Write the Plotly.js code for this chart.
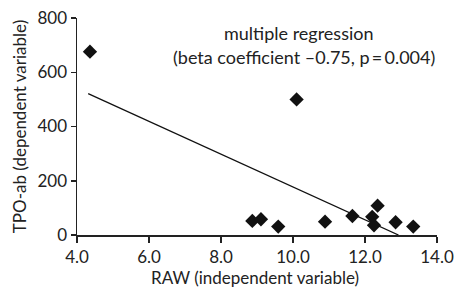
<!DOCTYPE html>
<html>
<head>
<meta charset="utf-8">
<script src="https://cdn.plot.ly/plotly-3.0.1.min.js"></script>
<style>html,body{margin:0;padding:0;background:#fff;}#chart{width:457px;height:290px;}</style>
</head>
<body>
<div id="chart"></div>
<script>
const rawX = [4.36, 10.10, 8.87, 9.11, 9.59, 10.89, 11.65, 12.20, 12.35, 12.25, 12.85, 13.34];
const tpoY = [676, 500, 52, 58, 31, 49, 70, 67, 108, 36, 47, 31];
const fitX = [4.31, 12.93];
const fitY = [521, 0];
const xTicks = [4, 6, 8, 10, 12, 14];
const xTickLabels = ['4.0', '6.0', '8.0', '10.0', '12.0', '14.0'];
const yTicks = [0, 200, 400, 600, 800];
const xTitle = 'RAW (independent variable)';
const yTitle = 'TPO-ab (dependent variable)';

const font = 'Lato, "Open Sans", sans-serif';
const data = [
  {x: fitX, y: fitY, type: 'scatter', mode: 'lines', line: {color: '#111', width: 1.3}, hoverinfo: 'skip'},
  {x: rawX, y: tpoY, type: 'scatter', mode: 'markers', marker: {symbol: 'diamond', size: 11, color: '#111'}, cliponaxis: false}
];
const layout = {
  width: 457, height: 290,
  margin: {l: 77, r: 20, t: 18, b: 55},
  showlegend: false,
  paper_bgcolor: '#fff', plot_bgcolor: '#fff',
  font: {family: font, size: 17, color: '#222'},
  xaxis: {
    range: [4, 14], tickvals: xTicks, ticktext: xTickLabels,
    showgrid: false, zeroline: false, showline: true, linecolor: '#222', linewidth: 1.5,
    ticks: 'outside', ticklen: 6, tickwidth: 1.5, tickcolor: '#222',
    tickfont: {family: font, size: 17, color: '#222'}
  },
  yaxis: {
    range: [0, 800], tickvals: yTicks,
    showgrid: false, zeroline: false, showline: true, linecolor: '#222', linewidth: 1.5,
    ticks: 'outside', ticklen: 5, tickwidth: 1.5, tickcolor: '#222',
    tickfont: {family: font, size: 17, color: '#222'},
    title: {text: yTitle, font: {family: font, size: 17, color: '#222'}, standoff: 6}
  },
  annotations: [
    {xref: 'paper', yref: 'paper', x: 0.494, y: -0.198, xanchor: 'center', yanchor: 'middle', text: xTitle, showarrow: false, font: {family: font, size: 17, color: '#222'}},
    {xref: 'paper', yref: 'paper', x: 0.617, y: 0.931, xanchor: 'center', yanchor: 'middle', text: 'multiple regression', showarrow: false, font: {family: font, size: 18, color: '#222'}},
    {xref: 'paper', yref: 'paper', x: 0.631, y: 0.820, xanchor: 'center', yanchor: 'middle', text: '(beta coefficient \u20130.75, p\u2009=\u20090.004)', showarrow: false, font: {family: font, size: 18, color: '#222'}}
  ]
};
Plotly.newPlot('chart', data, layout, {displayModeBar: false, staticPlot: true});
</script>
</body>
</html>
